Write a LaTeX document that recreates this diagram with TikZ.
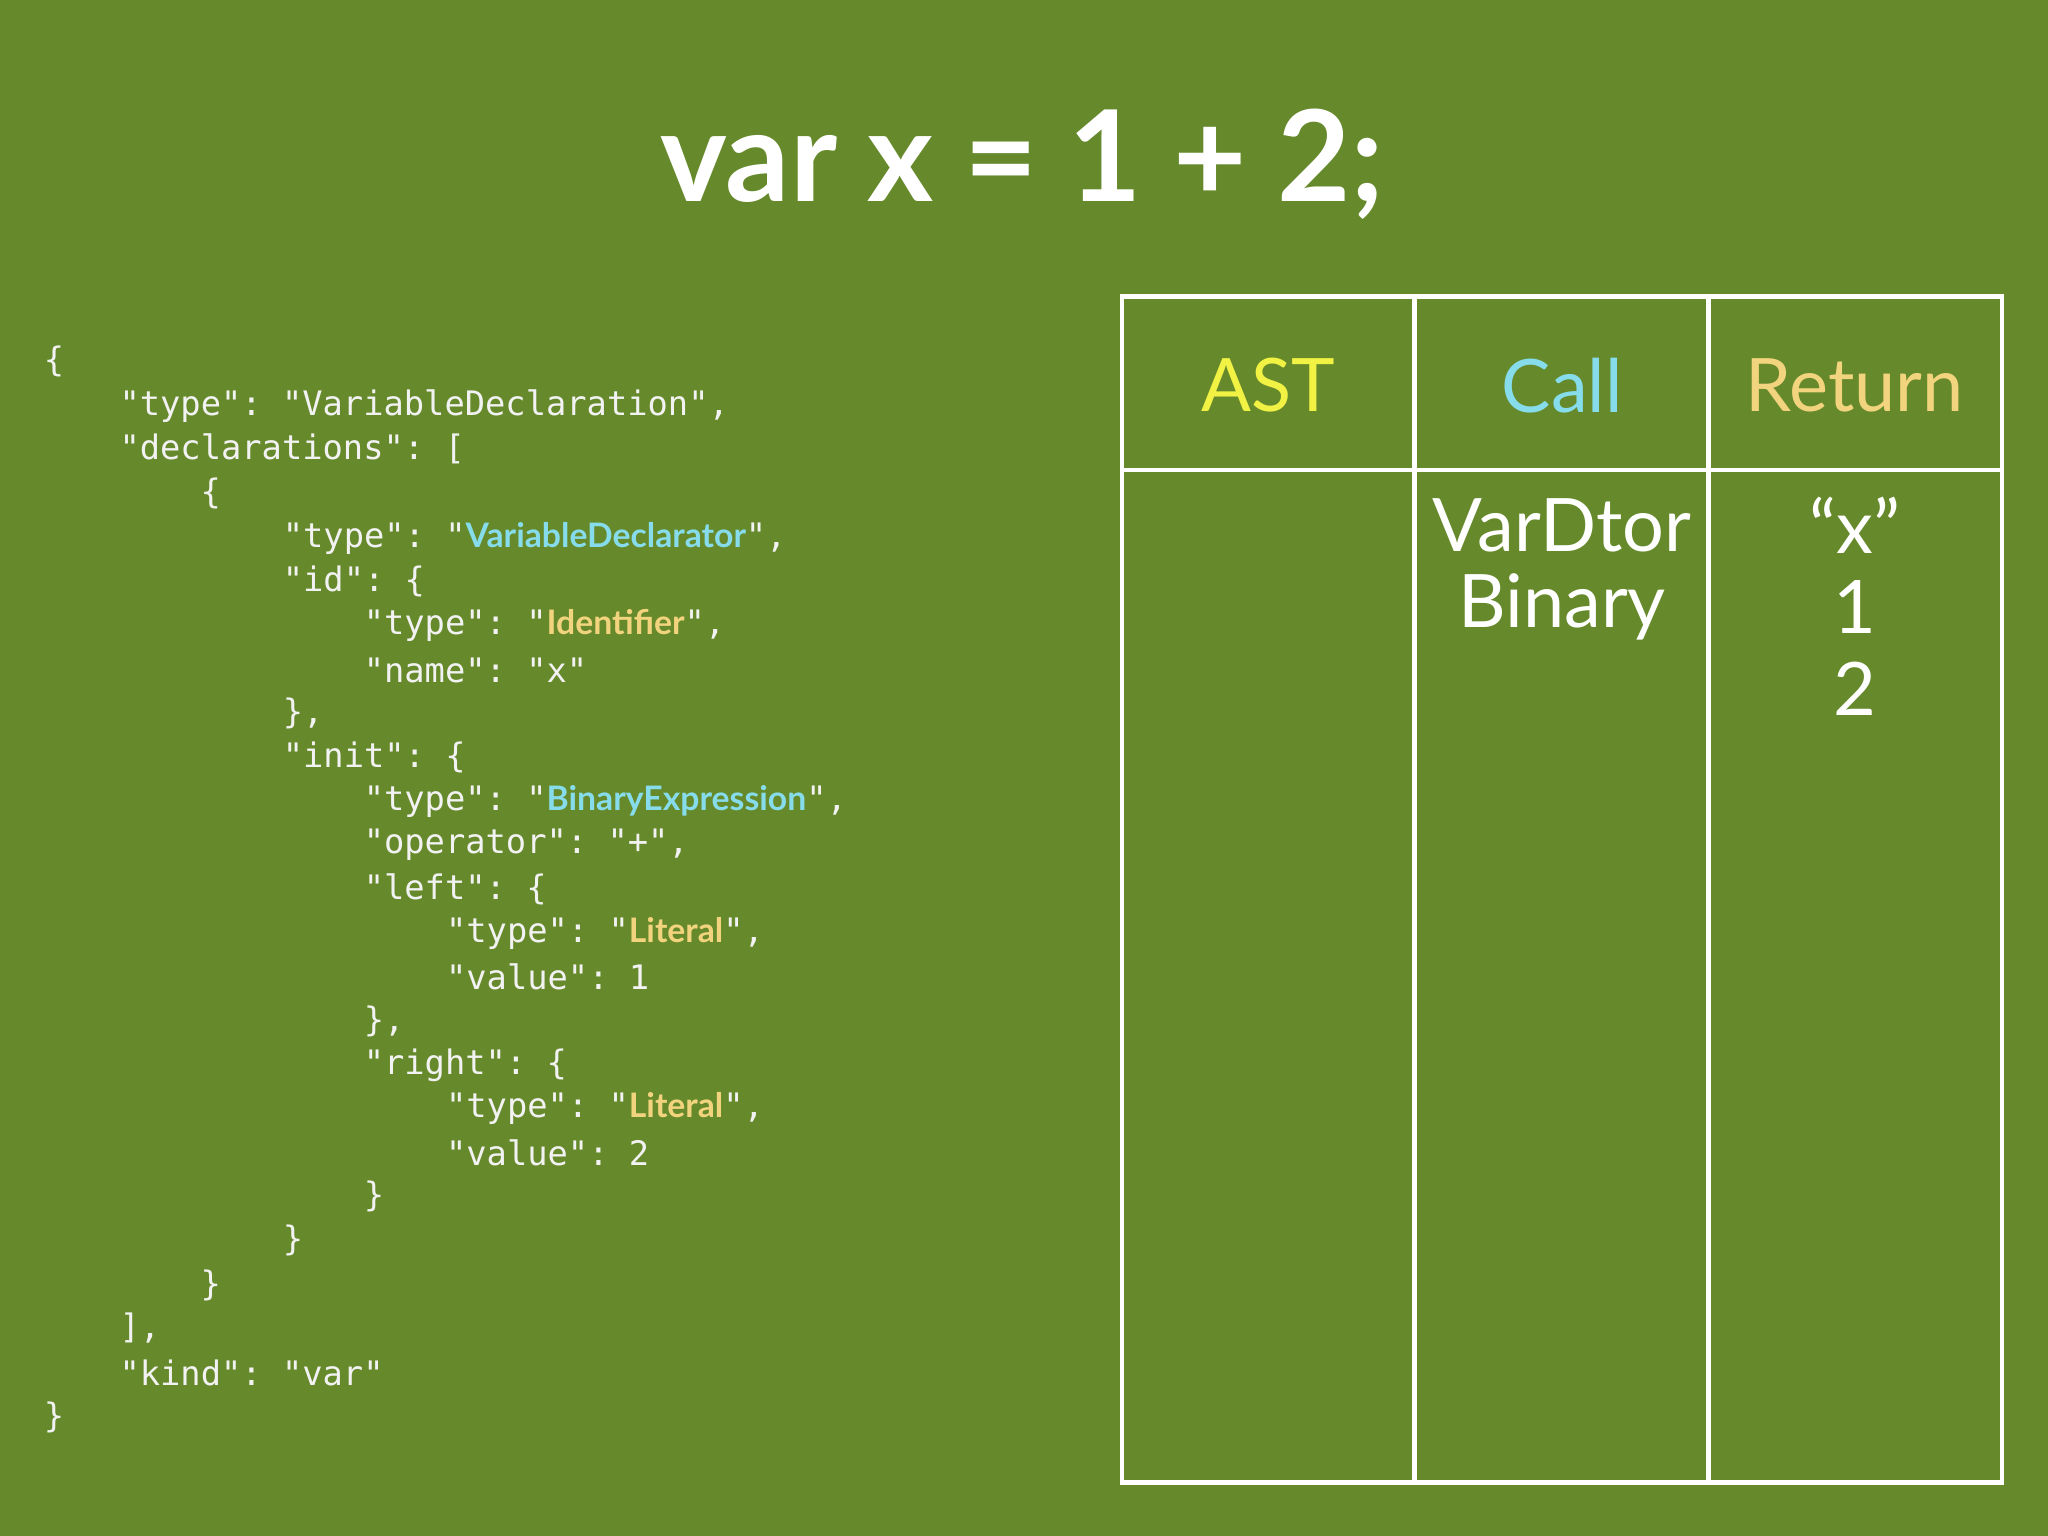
\documentclass[tikz,border=0pt]{standalone}
\usepackage{fontspec}
\setmainfont{Lato}
\setmonofont{DejaVu Sans Mono}
\definecolor{slidegreen}{HTML}{668A2B}
\definecolor{astyellow}{HTML}{F2F244}
\definecolor{callcyan}{HTML}{86DCEB}
\definecolor{retorange}{HTML}{F2D47E}
\definecolor{codewhite}{HTML}{F2F2F2}
\newcommand{\hlc}[1]{{\rmfamily\bfseries\color{callcyan}#1}}
\newcommand{\hlo}[1]{{\rmfamily\bfseries\color{retorange}#1}}

\begin{document}
\begin{tikzpicture}[x=0.01306cm,y=-0.01306cm]
    \tikzstyle{code}=[anchor=west,inner sep=0pt,text=codewhite,font=\ttfamily\fontsize{9.6}{12}\selectfont]
    \tikzstyle{head}=[font=\fontsize{21}{25}\selectfont]
    \tikzstyle{cell}=[text=white,font=\fontsize{21}{25}\selectfont]
    \tikzstyle{grid}=[draw=white,line width=1.2pt]

    % Background
    \fill[slidegreen] (0,0) rectangle (1568,1176);
    \useasboundingbox (0,0) rectangle (1568,1176);

    % Title
    \node[text=white,font=\bfseries\fontsize{36}{42}\selectfont] (title) at (783,126) {var x = 1 + 2;};

    % JSON listing
    \node[code] (c1) at (33,277) {\{};
    \node[code] (c2) at (91,311) {"type": "VariableDeclaration",};
    \node[code] (c3) at (91,344) {"declarations": [};
    \node[code] (c4) at (153,378) {\{};
    \node[code] (c5) at (216,412) {"type": "\hlc{VariableDeclarator}",};
    \node[code] (c6) at (216,445) {"id": \{};
    \node[code] (c7) at (278,479) {"type": "\hlo{Identifier}",};
    \node[code] (c8) at (278,513) {"name": "x"};
    \node[code] (c9) at (216,546) {\},};
    \node[code] (c10) at (216,580) {"init": \{};
    \node[code] (c11) at (278,614) {"type": "\hlc{BinaryExpression}",};
    \node[code] (c12) at (278,647) {"operator": "+",};
    \node[code] (c13) at (278,681) {"left": \{};
    \node[code] (c14) at (341,715) {"type": "\hlo{Literal}",};
    \node[code] (c15) at (341,748) {"value": 1};
    \node[code] (c16) at (278,782) {\},};
    \node[code] (c17) at (278,816) {"right": \{};
    \node[code] (c18) at (341,849) {"type": "\hlo{Literal}",};
    \node[code] (c19) at (341,883) {"value": 2};
    \node[code] (c20) at (278,916) {\}};
    \node[code] (c21) at (216,950) {\}};
    \node[code] (c22) at (153,984) {\}};
    \node[code] (c23) at (91,1017) {],};
    \node[code] (c24) at (91,1051) {"kind": "var"};
    \node[code] (c25) at (33,1085) {\}};

    % Table
    \draw[grid] (859,227) rectangle (1533,1135);
    \draw[grid] (859,360) -- (1533,360);
    \draw[grid] (1083,227) -- (1083,1135);
    \draw[grid] (1308,227) -- (1308,1135);

    % Column heads
    \node[head,text=astyellow] (ast) at (971,295) {AST};
    \node[head,text=callcyan] (call) at (1196,295) {Call};
    \node[head,text=retorange] (ret) at (1420,295) {Return};

    % Column entries
    \node[cell] (k1) at (1196,402) {VarDtor};
    \node[cell] (k2) at (1196,465) {Binary};
    \node[cell] (r1) at (1420,402) {“x”};
    \node[cell] (r2) at (1420,465) {1};
    \node[cell] (r3) at (1420,527) {2};
\end{tikzpicture}
\end{document}
